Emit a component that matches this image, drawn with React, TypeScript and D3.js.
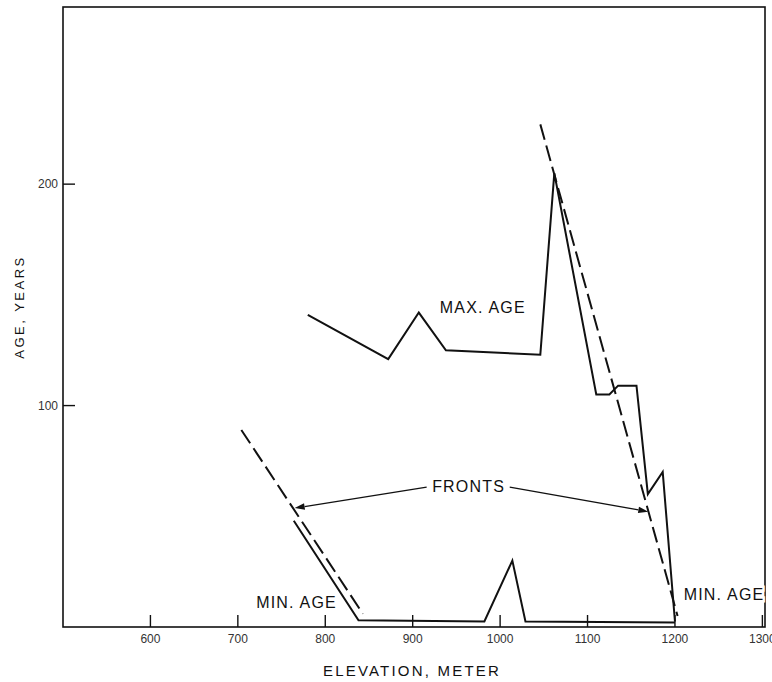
import React from "react";
import * as d3 from "d3";

// ---- data ----
const maxElev = [780, 872, 907, 938, 1046, 1062, 1110, 1125, 1135, 1156, 1169, 1186, 1200];
const maxAge = [141, 121, 142, 125, 123, 205, 105, 105, 109, 109, 60, 70, 2.5];

const minElev = [764, 838, 982, 1014, 1029, 1200];
const minAge = [48, 3, 2.5, 30, 2.5, 2];

const frontLeftElev = [704, 843];
const frontLeftAge = [89, 6];
const frontRightElev = [1046, 1203];
const frontRightAge = [227, 5];

const xTicks = [600, 700, 800, 900, 1000, 1100, 1200, 1300];
const yTicks = [100, 200];

const xDomain = [500, 1303];
const yDomain = [0, 280];

// annotations (data coords)
const labelMax = { text: "MAX. AGE", elev: 931, age: 141.8 };
const labelMinLeft = { text: "MIN. AGE", elev: 721, age: 8.6 };
const labelMinRight = { text: "MIN. AGE", elev: 1210, age: 12.2 };
const labelFronts = { text: "FRONTS", elev: 964, age: 61 };
const arrowLeft = { fromElev: 916, fromAge: 63.2, toElev: 765, toAge: 53.7 };
const arrowRight = { fromElev: 1011, fromAge: 63.2, toElev: 1169.5, toAge: 52.1 };

const W = 772;
const H = 682;
const FONT = "'Liberation Sans', Arial, Helvetica, sans-serif";

export default function App() {
  const x = d3.scaleLinear().domain(xDomain).range([63, 765]);
  const y = d3.scaleLinear().domain(yDomain).range([627, 7]);

  const line = d3
    .line<[number, number]>()
    .x((d) => x(d[0]))
    .y((d) => y(d[1]));

  const zip = (a: number[], b: number[]) => a.map((v, i) => [v, b[i]] as [number, number]);

  const arrow = (a: typeof arrowLeft) => {
    const x1 = x(a.fromElev), y1 = y(a.fromAge), x2 = x(a.toElev), y2 = y(a.toAge);
    const ang = Math.atan2(y2 - y1, x2 - x1);
    const L = 10, Wd = 3.2;
    const bx = x2 - L * Math.cos(ang), by = y2 - L * Math.sin(ang);
    const p1 = [bx + Wd * Math.sin(ang), by - Wd * Math.cos(ang)];
    const p2 = [bx - Wd * Math.sin(ang), by + Wd * Math.cos(ang)];
    return (
      <g>
        <line x1={x1} y1={y1} x2={bx} y2={by} stroke="#111" strokeWidth={1.3} />
        <path d={`M${x2},${y2}L${p1[0]},${p1[1]}L${p2[0]},${p2[1]}Z`} fill="#111" />
      </g>
    );
  };

  const labelStyle = { fontFamily: FONT, fontSize: 16, letterSpacing: 1.2, fill: "#111" } as const;

  return (
    <svg width={W} height={H} style={{ position: "absolute", left: 0, top: 0, background: "#fff" }}>
      <rect x={0} y={0} width={W} height={H} fill="#fff" />
      {/* frame */}
      <rect
        x={x(xDomain[0])}
        y={y(yDomain[1])}
        width={x(xDomain[1]) - x(xDomain[0])}
        height={y(yDomain[0]) - y(yDomain[1])}
        fill="none"
        stroke="#111"
        strokeWidth={1.6}
      />
      {/* x ticks */}
      {xTicks.map((t) => (
        <g key={"x" + t}>
          <line x1={x(t)} x2={x(t)} y1={y(0)} y2={y(0) - 12} stroke="#111" strokeWidth={1.4} />
          <text x={x(t)} y={y(0) + 16} textAnchor="middle" fontFamily={FONT} fontSize={12} fill="#333">
            {t}
          </text>
        </g>
      ))}
      {/* y ticks */}
      {yTicks.map((t) => (
        <g key={"y" + t}>
          <line x1={x(xDomain[0])} x2={x(xDomain[0]) + 12} y1={y(t)} y2={y(t)} stroke="#111" strokeWidth={1.4} />
          <text x={x(xDomain[0]) - 5} y={y(t)} dy="0.36em" textAnchor="end" fontFamily={FONT} fontSize={12} fill="#333">
            {t}
          </text>
        </g>
      ))}
      {/* axis titles */}
      <text
        x={(x(xDomain[0]) + x(xDomain[1])) / 2 - 2}
        y={676}
        textAnchor="middle"
        fontFamily={FONT}
        fontSize={15}
        letterSpacing={2.2}
        fill="#111"
      >
        ELEVATION, METER
      </text>
      <text
        transform={`translate(24,307) rotate(-90)`}
        textAnchor="middle"
        fontFamily={FONT}
        fontSize={13}
        letterSpacing={2.5}
        fill="#111"
      >
        AGE, YEARS
      </text>
      {/* series */}
      <path d={line(zip(maxElev, maxAge)) || ""} fill="none" stroke="#111" strokeWidth={2} strokeLinejoin="miter" />
      <path d={line(zip(minElev, minAge)) || ""} fill="none" stroke="#111" strokeWidth={2} />
      <path d={line(zip(frontLeftElev, frontLeftAge)) || ""} fill="none" stroke="#111" strokeWidth={2} strokeDasharray="16 6" />
      <path d={line(zip(frontRightElev, frontRightAge)) || ""} fill="none" stroke="#111" strokeWidth={2} strokeDasharray="16 6" />
      {/* annotations */}
      {arrow(arrowLeft)}
      {arrow(arrowRight)}
      <text x={x(labelFronts.elev)} y={y(labelFronts.age)} textAnchor="middle" {...labelStyle}>
        {labelFronts.text}
      </text>
      <text x={x(labelMax.elev)} y={y(labelMax.age)} {...labelStyle}>
        {labelMax.text}
      </text>
      <text x={x(labelMinLeft.elev)} y={y(labelMinLeft.age)} {...labelStyle}>
        {labelMinLeft.text}
      </text>
      <text
        x={x(labelMinRight.elev)}
        y={y(labelMinRight.age)}
        {...labelStyle}
        stroke="#fff"
        strokeWidth={5}
        paintOrder="stroke"
      >
        {labelMinRight.text}
      </text>
    </svg>
  );
}
